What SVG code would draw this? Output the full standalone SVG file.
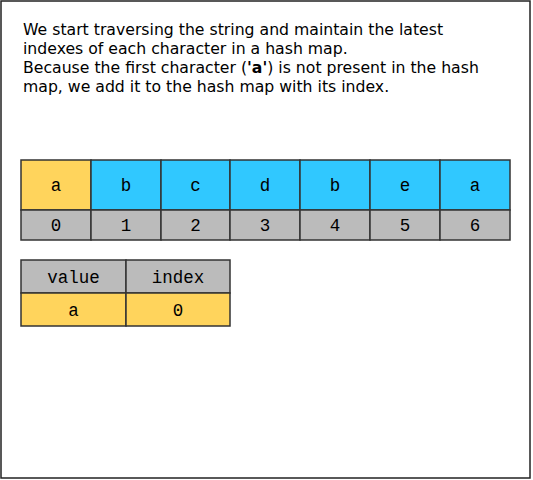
<svg xmlns="http://www.w3.org/2000/svg" width="533" height="480" viewBox="0 0 533 480">
<style>
.frame{fill:#fff;stroke:#222;stroke-width:1.5}
.t{font-family:"DejaVu Sans",Verdana,sans-serif;font-size:15.7px;fill:#000}
.c{stroke:#333;stroke-width:1.5}
.y{fill:#ffd45c}
.b{fill:#30c8ff}
.g{fill:#bbbbbb}
.m{font-family:"Liberation Mono","Courier New",monospace;font-size:17.5px;fill:#000;text-anchor:middle}
</style>
<rect class="frame" x="1" y="1" width="529" height="477"/>
<g id="caption">
<text class="t" x="23" y="35">We start traversing the string and maintain the latest</text>
<text class="t" x="23" y="54">indexes of each character in a hash map.</text>
<text class="t" x="23" y="73">Because the first character (<tspan font-weight="bold">'a'</tspan>) is not present in the hash</text>
<text class="t" x="23" y="92">map, we add it to the hash map with its index.</text>
</g>
<g id="array">
<rect class="c y" x="21" y="160" width="70" height="50"/>
<rect class="c b" x="91" y="160" width="70" height="50"/>
<rect class="c b" x="161" y="160" width="69" height="50"/>
<rect class="c b" x="230" y="160" width="70" height="50"/>
<rect class="c b" x="300" y="160" width="70" height="50"/>
<rect class="c b" x="370" y="160" width="70" height="50"/>
<rect class="c b" x="440" y="160" width="70" height="50"/>
<rect class="c g" x="21" y="210" width="70" height="30"/>
<rect class="c g" x="91" y="210" width="70" height="30"/>
<rect class="c g" x="161" y="210" width="69" height="30"/>
<rect class="c g" x="230" y="210" width="70" height="30"/>
<rect class="c g" x="300" y="210" width="70" height="30"/>
<rect class="c g" x="370" y="210" width="70" height="30"/>
<rect class="c g" x="440" y="210" width="70" height="30"/>
<text class="m" x="56" y="191">a</text>
<text class="m" x="126" y="191">b</text>
<text class="m" x="195.5" y="191">c</text>
<text class="m" x="265" y="191">d</text>
<text class="m" x="335" y="191">b</text>
<text class="m" x="405" y="191">e</text>
<text class="m" x="475" y="191">a</text>
<text class="m" x="56" y="231">0</text>
<text class="m" x="126" y="231">1</text>
<text class="m" x="195.5" y="231">2</text>
<text class="m" x="265" y="231">3</text>
<text class="m" x="335" y="231">4</text>
<text class="m" x="405" y="231">5</text>
<text class="m" x="475" y="231">6</text>
</g>
<g id="hashmap">
<rect class="c g" x="21" y="260" width="105" height="33"/>
<rect class="c g" x="126" y="260" width="104" height="33"/>
<rect class="c y" x="21" y="293" width="105" height="33"/>
<rect class="c y" x="126" y="293" width="104" height="33"/>
<text class="m" x="73.5" y="283">value</text>
<text class="m" x="178" y="283">index</text>
<text class="m" x="73.5" y="316">a</text>
<text class="m" x="178" y="316">0</text>
</g>
<g id="connectors"/>
</svg>
